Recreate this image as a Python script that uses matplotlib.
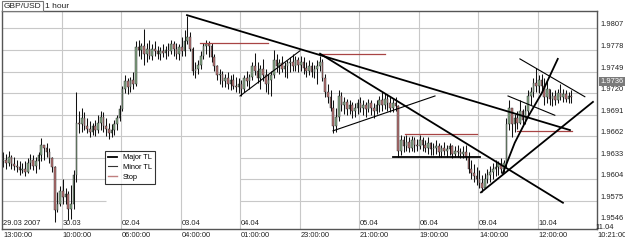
import matplotlib
matplotlib.use('Agg')
import matplotlib.pyplot as plt
from matplotlib.lines import Line2D
from matplotlib.transforms import blended_transform_factory
import numpy as np

plt.rcParams['font.family'] = ['Liberation Sans', 'DejaVu Sans']

# GBP/USD hourly bars, prices in pips above 1.9500
base = 1.95
first_open = 128
highs = [140, 138, 142, 136, 134, 130, 128, 126, 128, 132, 138, 136, 134, 140, 159, 150, 152, 146, 134, 122,
         86, 94, 104, 92, 88, 96, 116, 222, 196, 200, 194, 186, 182, 180, 184, 190, 196, 194, 186, 180,
         178, 184, 190, 204, 230, 244, 240, 242, 248, 290, 292, 288, 306, 288, 292, 286, 290, 284, 282, 286,
         284, 288, 292, 290, 288, 286, 296, 305, 324, 302, 282, 262, 264, 276, 288, 292, 290, 288, 272, 258,
         252, 250, 246, 248, 244, 246, 242, 240, 238, 244, 250, 246, 262, 274, 262, 258, 266, 252, 246, 250,
         278, 272, 266, 270, 262, 264, 268, 272, 270, 268, 270, 268, 262, 264, 262, 258, 264, 270, 266, 246,
         232, 224, 210, 200, 224, 222, 214, 212, 210, 208, 206, 212, 214, 210, 208, 212, 210, 206, 210, 216,
         222, 220, 218, 214, 212, 214, 204, 164, 162, 164, 160, 162, 160, 158, 164, 160, 156, 160, 154, 152,
         156, 152, 150, 154, 150, 152, 150, 148, 150, 146, 148, 150, 140, 130, 124, 120, 116, 110, 112, 118,
         122, 126, 130, 128, 132, 130, 186, 210, 196, 192, 196, 210, 198, 204, 224, 228, 240, 254, 244, 246,
         240, 236, 226, 222, 224, 226, 232, 226, 224, 222, 224]
lows = [120, 118, 122, 118, 116, 114, 110, 112, 108, 112, 118, 116, 112, 118, 128, 130, 134, 126, 114, 46,
        60, 68, 70, 70, 49, 50, 64, 100, 166, 168, 170, 166, 160, 164, 162, 166, 170, 168, 162, 158,
        160, 164, 170, 182, 196, 220, 218, 222, 226, 230, 270, 266, 258, 262, 266, 264, 270, 266, 264, 268,
        266, 270, 272, 270, 266, 264, 270, 270, 286, 276, 244, 240, 246, 252, 266, 272, 268, 262, 250, 238,
        232, 228, 228, 226, 224, 226, 222, 220, 216, 222, 230, 226, 238, 244, 234, 226, 236, 222, 218, 216,
        240, 248, 246, 248, 242, 240, 248, 250, 250, 248, 250, 246, 242, 244, 242, 240, 232, 250, 236, 214,
        206, 196, 166, 168, 182, 196, 192, 190, 192, 186, 188, 192, 194, 190, 188, 194, 190, 186, 192, 194,
        196, 198, 196, 194, 194, 196, 134, 136, 140, 142, 140, 142, 140, 142, 144, 142, 140, 138, 136, 136,
        138, 134, 134, 136, 134, 136, 132, 134, 134, 132, 132, 130, 112, 104, 100, 96, 92, 86, 92, 98,
        100, 104, 108, 110, 112, 114, 120, 170, 160, 168, 172, 178, 176, 178, 190, 204, 214, 222, 220, 222,
        204, 206, 204, 202, 204, 206, 210, 208, 208, 206, 206]
closes = [130, 126, 134, 124, 122, 120, 116, 118, 114, 126, 130, 122, 128, 136, 150, 146, 140, 132, 120, 62,
          70, 88, 80, 84, 64, 70, 110, 180, 178, 186, 176, 172, 168, 176, 170, 180, 188, 176, 172, 166,
          170, 178, 186, 198, 226, 236, 228, 238, 232, 282, 278, 284, 272, 280, 270, 280, 276, 272, 276, 274,
          278, 276, 286, 280, 272, 282, 276, 290, 296, 280, 250, 252, 258, 270, 284, 286, 284, 268, 256, 244,
          246, 236, 240, 232, 238, 230, 228, 232, 226, 240, 236, 242, 256, 250, 240, 252, 244, 232, 238, 244,
          264, 256, 260, 252, 256, 260, 262, 256, 264, 258, 262, 254, 250, 256, 248, 252, 256, 262, 240, 222,
          214, 200, 176, 188, 216, 204, 208, 198, 204, 196, 200, 206, 200, 204, 198, 206, 200, 196, 204, 210,
          204, 212, 206, 200, 206, 202, 142, 156, 148, 154, 146, 156, 150, 148, 156, 150, 146, 152, 144, 146,
          148, 140, 146, 142, 144, 148, 138, 142, 140, 138, 140, 134, 118, 112, 108, 104, 98, 92, 104, 110,
          114, 118, 120, 124, 118, 126, 178, 200, 178, 186, 180, 196, 184, 196, 216, 222, 234, 230, 238, 230,
          214, 226, 212, 216, 210, 220, 214, 218, 212, 216, 214]

# axis labels
grid_idx = [22, 44, 66, 88, 110, 132, 154, 176, 198]
label_idx = [0, 22, 44, 66, 88, 110, 132, 154, 176, 198]
date_labels = ['29.03 2007', '30.03', '02.04', '03.04', '04.04', '', '05.04', '06.04', '09.04', '10.04']
time_labels = ['13:00:00', '10:00:00', '06:00:00', '04:00:00', '01:00:00', '23:00:00',
               '21:00:00', '19:00:00', '14:00:00', '12:00:00']
last_date, last_time = '11.04', '10:21:00'
price_ticks = [1.9546, 1.9575, 1.9604, 1.9633, 1.9662, 1.9691, 1.9720, 1.9749, 1.9778, 1.9807]
last_price = 1.9736

# trend lines (bar index, pips)
major_tl = [([68.4, 210.0], [325, 170]),
            ([117.6, 207.4], [273, 72]),
            ([144.5, 176.7], [134, 134]),
            ([177.1, 218.5], [86, 208]),
            ([185.2, 189.6, 194.5, 199.6, 205.5], [112, 153, 188, 220, 266])]
minor_tl = [([88.0, 110.2], [216, 277]),
            ([122.4, 160.1], [169, 216]),
            ([191.5, 215.5], [266, 215]),
            ([187.1, 204.4], [216, 190])]
stops = [([73.2, 98.3], [288, 288]),
         ([118.3, 141.6], [273, 273]),
         ([149.0, 175.6], [165, 165]),
         ([190.4, 210.7], [169, 169])]


def px(v):
    return base + np.asarray(v) / 10000.0


fig = plt.figure(figsize=(6.25, 2.4), dpi=100)
ax = fig.add_axes([2 / 625, 11 / 240, 595 / 625, 218 / 240])
ax.set_xlim(0, 220)
ax.set_ylim(1.95366, 1.98306)

# grid
gcol = '#c8c8c8'
for g in grid_idx:
    ax.axvline(g, color=gcol, lw=0.8, zorder=0)
for p in price_ticks[1:]:
    if p < 1.9640:
        ax.hlines(p, 0, 38.3, color=gcol, lw=0.8, zorder=0)
        ax.hlines(p, 88, 220, color=gcol, lw=0.8, zorder=0)
    else:
        ax.axhline(p, color=gcol, lw=0.8, zorder=0)

# candles
n = len(closes)
x = np.arange(n) + 0.5
c = np.array(closes, float)
o = np.concatenate([[first_open], c[:-1]])
h = np.maximum(np.maximum(highs, o), c)
l = np.minimum(np.minimum(lows, o), c)
ax.vlines(x, px(l), px(h), color='#111111', lw=0.75, zorder=2)
cols = ['#86a886' if cc >= oo else '#b87474' for oo, cc in zip(o, c)]
ax.bar(x, (np.abs(c - o)) / 10000.0, bottom=px(np.minimum(o, c)), width=0.6,
       color=cols, edgecolor='#222222', linewidth=0.3, zorder=3)

# lines
for xs, ys in stops:
    ax.plot(xs, px(ys), color='#a84444', lw=0.9, zorder=4)
for xs, ys in minor_tl:
    ax.plot(xs, px(ys), color='black', lw=0.8, zorder=4)
for xs, ys in major_tl:
    ax.plot(xs, px(ys), color='black', lw=1.3, zorder=4)

# frame
for s in ax.spines.values():
    s.set_color('#555555')
    s.set_linewidth(1.0)
ax.set_xticks([])
ax.set_yticks([])

# labels
tr = ax.get_xaxis_transform()
for i, d, t in zip(label_idx, date_labels, time_labels):
    ax.text(i + 0.4, 0.024, d, transform=tr, fontsize=5.4, ha='left', va='center', color='#222222')
    ax.text(i + 0.4, -0.03, t, transform=tr, fontsize=5.4, ha='left', va='center', color='#222222',
            clip_on=False)
ax.text(0.997, 0.006, last_date, transform=ax.transAxes, fontsize=5.4, ha='left', va='center',
        color='#222222', clip_on=False)
ax.text(1.0, -0.03, last_time, transform=ax.transAxes, fontsize=5.4, ha='left', va='center',
        color='#222222', clip_on=False)

ytr = blended_transform_factory(ax.transAxes, ax.transData)
for p in price_ticks:
    ax.text(1.006, p, '%.4f' % p, transform=ytr, fontsize=5.4, ha='left', va='bottom',
            color='#222222', clip_on=False)
ax.text(1.006, last_price, '%.4f' % last_price, transform=ytr, fontsize=5.4, ha='left', va='center',
        color='white', clip_on=False, zorder=6,
        bbox=dict(boxstyle='square,pad=0.15', fc='#7a7a7a', ec='none'))

fig.text(4 / 625, 1 - 6 / 240, 'GBP/USD', fontsize=6, ha='left', va='center', color='#222222',
         bbox=dict(boxstyle='square,pad=0.2', fc='white', ec='#777777', lw=0.8))
fig.text(45 / 625, 1 - 6 / 240, '1 hour', fontsize=6, ha='left', va='center', color='#222222')

handles = [Line2D([], [], color='black', lw=1.3),
           Line2D([], [], color='#333333', lw=0.8),
           Line2D([], [], color='#c08080', lw=1.0)]
leg = ax.legend(handles, ['Major TL', 'Minor TL', 'Stop'], loc='upper left',
                bbox_to_anchor=((105 - 2) / 595, (229 - 151) / 218), borderaxespad=0,
                fontsize=5.3, frameon=True, fancybox=False, edgecolor='black',
                handlelength=1.2, handletextpad=0.8, borderpad=0.4, labelspacing=0.35)
leg.get_frame().set_linewidth(0.8)
leg.set_zorder(7)

fig.savefig('out.png', dpi=100)
